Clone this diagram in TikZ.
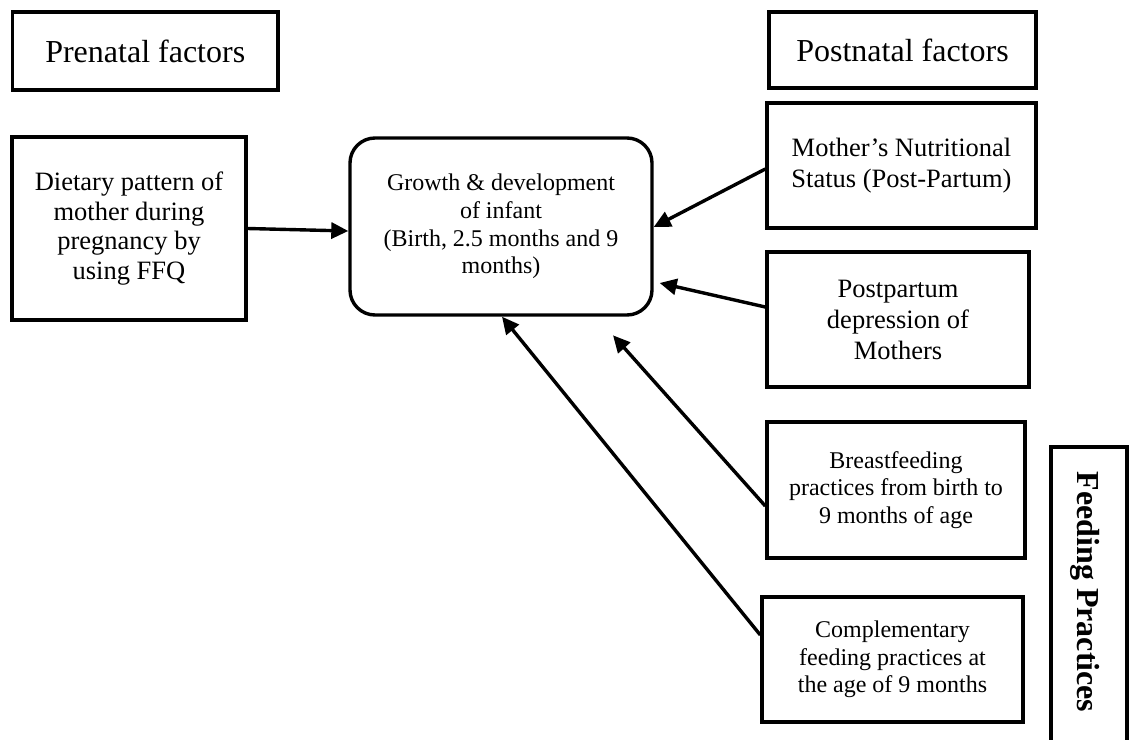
\documentclass[tikz,border=0pt]{standalone}
\usepackage{fontspec}
\setmainfont{Liberation Serif}
\usetikzlibrary{arrows.meta}
\begin{document}
\begin{tikzpicture}[x=1pt,y=-1pt,
  box/.style={draw, line width=3.4pt, inner sep=0pt, align=center},
  head/.style={font=\fontsize{32}{36}\selectfont},
  body/.style={font=\fontsize{26.5}{31}\selectfont},
  small/.style={font=\fontsize{24}{27.6}\selectfont},
  arr/.style={line width=3.4pt, -{Triangle[length=17pt,width=16pt]}}]
\useasboundingbox (0,0) rectangle (1131,739);
\clip (0,0) rectangle (1131,739);

\node[box, head, minimum width=265.5pt, minimum height=78pt] (pre) at (145.25,51) {Prenatal factors};
\node[box, head, minimum width=267pt, minimum height=76pt] (post) at (902.5,50) {Postnatal factors};

\node[box, font=\fontsize{26.5}{29.5}\selectfont, minimum width=234pt, minimum height=183pt] (diet) at (129,228.5)
  {Dietary pattern of\\mother during\\pregnancy by\\using FFQ};

\node[box, small, rounded corners=25pt, minimum width=302pt, minimum height=177pt] (growth) at (501,226.5)
  {Growth \& development\\of infant\\(Birth, 2.5 months and 9\\months)};

\node[box, body, minimum width=269pt, minimum height=125pt] (mother) at (901.5,165.5)
  {Mother’s Nutritional\\Status (Post-Partum)};
\node[box, body, minimum width=262pt, minimum height=135pt] (pp) at (898,319.5)
  {Postpartum\\depression of\\Mothers};
\node[box, small, minimum width=258pt, minimum height=136pt] (breast) at (896,490)
  {Breastfeeding\\practices from birth to\\9 months of age};
\node[box, small, minimum width=261pt, minimum height=125pt] (comp) at (892.5,659.5)
  {Complementary\\feeding practices at\\the age of 9 months};

\node[box, minimum width=76pt, minimum height=313pt] (feed) at (1089,603.5) {};
\node[rotate=-90, inner sep=0pt, font=\fontsize{32}{36}\selectfont\bfseries] (feedtext) at (1085,592)
  {Feeding Practices};

\draw[arr] (diet.east) -- ([yshift=-4.5pt]growth.west);
\draw[arr] ([yshift=-3.5pt]mother.west) -- ([yshift=-0.5pt]growth.east);
\draw[arr] ([yshift=12.5pt]pp.west) -- ([xshift=6pt,yshift=-56.5pt]growth.east);
\draw[arr] ([yshift=-16pt]breast.west) -- ([xshift=112pt,yshift=-18.6pt]growth.south);
\draw[arr] ([yshift=24.5pt]comp.west) -- ([xshift=1pt]growth.south);
\end{tikzpicture}
\end{document}
